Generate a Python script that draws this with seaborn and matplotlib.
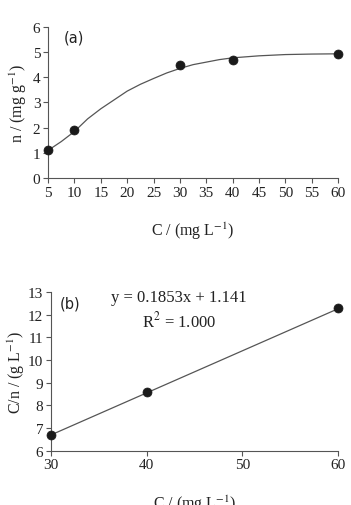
import matplotlib
matplotlib.use('Agg')
import matplotlib.pyplot as plt
import seaborn as sns
import pandas as pd

# panel (a): isotherm data and fitted curve
conc_a = [5, 10, 30, 40, 60]
n_a = [1.1, 1.9, 4.5, 4.7, 4.93]
curve_x = [5, 7.5, 10, 12.5, 15, 17.5, 20, 22.5, 25, 27.5, 30, 32.5, 35, 37.5, 40, 45, 50, 55, 60]
curve_y = [1.1, 1.45, 1.85, 2.35, 2.75, 3.1, 3.45, 3.72, 3.95, 4.17, 4.35, 4.5, 4.6, 4.7, 4.77, 4.85, 4.9, 4.92, 4.93]

# panel (b): linearised Langmuir plot
conc_b = [30, 40, 60]
cn_b = [6.7, 8.6, 12.28]
fit_x = [30, 60]
fit_y = [6.70, 12.26]

x_ticks_a = [5, 10, 15, 20, 25, 30, 35, 40, 45, 50, 55, 60]
y_ticks_a = [0, 1, 2, 3, 4, 5, 6]
x_ticks_b = [30, 40, 50, 60]
y_ticks_b = [6, 7, 8, 9, 10, 11, 12, 13]

sns.set_style('ticks')
plt.rcParams['font.family'] = ['Liberation Serif', 'DejaVu Serif']
plt.rcParams['mathtext.fontset'] = 'stix'
plt.rcParams['font.size'] = 11
plt.rcParams['text.color'] = '#222222'
plt.rcParams['xtick.color'] = '#555555'
plt.rcParams['ytick.color'] = '#555555'
plt.rcParams['xtick.labelcolor'] = '#222222'
plt.rcParams['ytick.labelcolor'] = '#222222'
plt.rcParams['axes.edgecolor'] = '#555555'
plt.rcParams['axes.labelcolor'] = '#222222'

fig = plt.figure(figsize=(3.51, 5.06), dpi=100)
ax1 = fig.add_axes([0.137, 0.646, 0.826, 0.299])
ax2 = fig.add_axes([0.145, 0.107, 0.818, 0.314])

line_kw = dict(color='#555555', linewidth=0.9)
dot_kw = dict(color='#1a1a1a', s=42, edgecolor='#1a1a1a', linewidth=0.5, zorder=3)

# (a)
df_a = pd.DataFrame({'C': conc_a, 'n': n_a})
ax1.plot(curve_x, curve_y, **line_kw)
sns.scatterplot(data=df_a, x='C', y='n', ax=ax1, **dot_kw)
ax1.set_xlim(5, 60)
ax1.set_ylim(0, 6)
ax1.set_xticks(x_ticks_a)
ax1.set_yticks(y_ticks_a)
ax1.set_xlabel(r'C / (mg L$^{-1}$)', labelpad=15, fontsize=11.5)
ax1.set_ylabel(r'n / (mg g$^{-1}$)', labelpad=3, fontsize=11.5)
ax1.text(0.055, 0.93, '(a)', transform=ax1.transAxes, fontsize=10.5,
         family=['DejaVu Sans'], va='center', ha='left')

# (b)
df_b = pd.DataFrame({'C': conc_b, 'Cn': cn_b})
ax2.plot(fit_x, fit_y, **line_kw)
sns.scatterplot(data=df_b, x='C', y='Cn', ax=ax2, **dot_kw)
ax2.set_xlim(30, 60)
ax2.set_ylim(6, 13)
ax2.set_xticks(x_ticks_b)
ax2.set_yticks(y_ticks_b)
ax2.set_xlabel(r'C / (mg L$^{-1}$)', labelpad=15, fontsize=11.5)
ax2.set_ylabel(r'C/n / (g L$^{-1}$)', labelpad=1, fontsize=11.5)
ax2.text(0.03, 0.93, '(b)', transform=ax2.transAxes, fontsize=10.5,
         family=['DejaVu Sans'], va='center', ha='left')
ax2.text(43.4, 12.8, 'y = 0.1853x + 1.141', ha='center', va='center', fontsize=12)
ax2.text(43.4, 11.75, r'R$^2$ = 1.000', ha='center', va='center', fontsize=12)

for ax in (ax1, ax2):
    sns.despine(ax=ax)
    ax.tick_params(direction='out', length=3.5, width=0.8, labelsize=11, pad=2)
    for s in ax.spines.values():
        s.set_linewidth(0.8)
        s.set_clip_on(False)
    for c in ax.collections:
        c.set_clip_on(False)

fig.savefig('out.png', dpi=100, facecolor='white')
